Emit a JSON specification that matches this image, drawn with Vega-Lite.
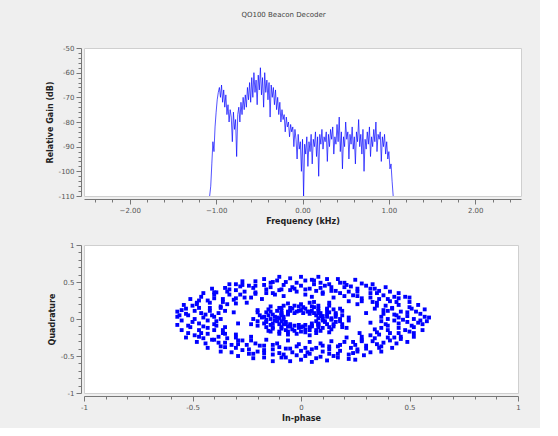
{
  "$schema": "https://vega.github.io/schema/vega-lite/v6.json",
  "background": "#efefef",
  "padding": {"left": 45, "top": 10, "right": 18, "bottom": 5},
  "title": {"text": "QO100 Beacon Decoder", "fontSize": 7, "font": "DejaVu Sans", "color": "#444444", "fontWeight": "normal", "anchor": "middle", "offset": 26},
  "config": {
    "font": "DejaVu Sans",
    "view": {"fill": "white", "stroke": "#cfcfcf"},
    "axis": {"domainColor": "#777777", "tickColor": "#777777", "labelColor": "#555555", "labelFontSize": 7, "labelFont": "DejaVu Sans", "titleFont": "DejaVu Sans", "titleFontSize": 8, "titleFontWeight": "bold", "titleColor": "#222222", "grid": false, "offset": 3, "labelOverlap": false, "labelFlush": false, "labelPadding": 2, "titlePadding": 4}
  },
  "spacing": 14,
  "vconcat": [
    {
      "width": 437,
      "height": 148,
      "data": {"values": [
        {"f":-1.075,"g":-110},{"f":-1.0625,"g":-106},{"f":-1.05,"g":-97},{"f":-1.0375,"g":-88},{"f":-1.025,"g":-92},{"f":-1.0125,"g":-82},{"f":-1.0,"g":-76},{"f":-0.9875,"g":-71},{"f":-0.975,"g":-68},{"f":-0.9625,"g":-66},
        {"f":-0.95,"g":-70},{"f":-0.9375,"g":-65},{"f":-0.925,"g":-72},{"f":-0.9125,"g":-67},{"f":-0.9,"g":-74},{"f":-0.8875,"g":-69},{"f":-0.875,"g":-77},{"f":-0.8625,"g":-73},{"f":-0.85,"g":-80},{"f":-0.8375,"g":-75},
        {"f":-0.825,"g":-78},{"f":-0.8125,"g":-88},{"f":-0.8,"g":-76},{"f":-0.7875,"g":-83},{"f":-0.775,"g":-79},{"f":-0.7625,"g":-94},{"f":-0.75,"g":-77},{"f":-0.7375,"g":-74},{"f":-0.725,"g":-80},{"f":-0.7125,"g":-72},
        {"f":-0.7,"g":-77},{"f":-0.6875,"g":-70},{"f":-0.675,"g":-75},{"f":-0.6625,"g":-69},{"f":-0.65,"g":-74},{"f":-0.6375,"g":-66},{"f":-0.625,"g":-71},{"f":-0.6125,"g":-64},{"f":-0.6,"g":-72},{"f":-0.5875,"g":-62},
        {"f":-0.575,"g":-70},{"f":-0.5625,"g":-60},{"f":-0.55,"g":-68},{"f":-0.5375,"g":-63},{"f":-0.525,"g":-73},{"f":-0.5125,"g":-61},{"f":-0.5,"g":-67},{"f":-0.4875,"g":-58},{"f":-0.475,"g":-69},{"f":-0.4625,"g":-62},
        {"f":-0.45,"g":-74},{"f":-0.4375,"g":-60},{"f":-0.425,"g":-68},{"f":-0.4125,"g":-63},{"f":-0.4,"g":-71},{"f":-0.3875,"g":-64},{"f":-0.375,"g":-78},{"f":-0.3625,"g":-65},{"f":-0.35,"g":-70},{"f":-0.3375,"g":-66},
        {"f":-0.325,"g":-73},{"f":-0.3125,"g":-67},{"f":-0.3,"g":-75},{"f":-0.2875,"g":-70},{"f":-0.275,"g":-77},{"f":-0.2625,"g":-72},{"f":-0.25,"g":-80},{"f":-0.2375,"g":-75},{"f":-0.225,"g":-79},{"f":-0.2125,"g":-77},
        {"f":-0.2,"g":-84},{"f":-0.1875,"g":-78},{"f":-0.175,"g":-82},{"f":-0.1625,"g":-80},{"f":-0.15,"g":-86},{"f":-0.1375,"g":-81},{"f":-0.125,"g":-84},{"f":-0.1125,"g":-82},{"f":-0.1,"g":-90},{"f":-0.0875,"g":-83},
        {"f":-0.075,"g":-87},{"f":-0.0625,"g":-95},{"f":-0.05,"g":-85},{"f":-0.0375,"g":-91},{"f":-0.025,"g":-88},{"f":-0.0125,"g":-100},{"f":0.0,"g":-87},{"f":0.0125,"g":-110},{"f":0.025,"g":-89},{"f":0.0375,"g":-93},
        {"f":0.05,"g":-86},{"f":0.0625,"g":-98},{"f":0.075,"g":-88},{"f":0.0875,"g":-92},{"f":0.1,"g":-85},{"f":0.1125,"g":-97},{"f":0.125,"g":-87},{"f":0.1375,"g":-90},{"f":0.15,"g":-84},{"f":0.1625,"g":-94},
        {"f":0.175,"g":-86},{"f":0.1875,"g":-102},{"f":0.2,"g":-85},{"f":0.2125,"g":-89},{"f":0.225,"g":-83},{"f":0.2375,"g":-91},{"f":0.25,"g":-86},{"f":0.2625,"g":-88},{"f":0.275,"g":-84},{"f":0.2875,"g":-96},
        {"f":0.3,"g":-85},{"f":0.3125,"g":-90},{"f":0.325,"g":-83},{"f":0.3375,"g":-87},{"f":0.35,"g":-82},{"f":0.3625,"g":-93},{"f":0.375,"g":-86},{"f":0.3875,"g":-89},{"f":0.4,"g":-81},{"f":0.4125,"g":-88},
        {"f":0.425,"g":-78},{"f":0.4375,"g":-92},{"f":0.45,"g":-84},{"f":0.4625,"g":-99},{"f":0.475,"g":-86},{"f":0.4875,"g":-90},{"f":0.5,"g":-80},{"f":0.5125,"g":-87},{"f":0.525,"g":-84},{"f":0.5375,"g":-95},
        {"f":0.55,"g":-85},{"f":0.5625,"g":-89},{"f":0.575,"g":-82},{"f":0.5875,"g":-91},{"f":0.6,"g":-86},{"f":0.6125,"g":-97},{"f":0.625,"g":-84},{"f":0.6375,"g":-88},{"f":0.65,"g":-79},{"f":0.6625,"g":-90},
        {"f":0.675,"g":-85},{"f":0.6875,"g":-93},{"f":0.7,"g":-83},{"f":0.7125,"g":-100},{"f":0.725,"g":-87},{"f":0.7375,"g":-91},{"f":0.75,"g":-84},{"f":0.7625,"g":-89},{"f":0.775,"g":-82},{"f":0.7875,"g":-94},
        {"f":0.8,"g":-86},{"f":0.8125,"g":-90},{"f":0.825,"g":-83},{"f":0.8375,"g":-88},{"f":0.85,"g":-80},{"f":0.8625,"g":-92},{"f":0.875,"g":-85},{"f":0.8875,"g":-87},{"f":0.9,"g":-84},{"f":0.9125,"g":-96},
        {"f":0.925,"g":-86},{"f":0.9375,"g":-90},{"f":0.95,"g":-85},{"f":0.9625,"g":-93},{"f":0.975,"g":-88},{"f":0.9875,"g":-95},{"f":1.0,"g":-92},{"f":1.0125,"g":-99},{"f":1.025,"g":-97},{"f":1.0375,"g":-104},
        {"f":1.05,"g":-110}
      ]},
      "mark": {"type": "line", "color": "#0000ff", "strokeWidth": 0.75, "opacity": 0.9, "clip": true},
      "encoding": {
        "x": {"field": "f", "type": "quantitative", "scale": {"domain": [-2.53, 2.53], "nice": false, "zero": false},
          "axis": {"title": "Frequency (kHz)", "values": [-2.4,-2.2,-2,-1.8,-1.6,-1.4,-1.2,-1,-0.8,-0.6,-0.4,-0.2,0,0.2,0.4,0.6,0.8,1,1.2,1.4,1.6,1.8,2,2.2,2.4],
            "labelExpr": "abs(datum.value - round(datum.value)) < 0.001 ? format(datum.value, '.2f') : ''",
            "tickSize": {"condition": {"test": "abs(datum.value - round(datum.value)) < 0.001", "value": 5}, "value": 3}}},
        "y": {"field": "g", "type": "quantitative", "scale": {"domain": [-110, -50], "nice": false, "zero": false},
          "axis": {"title": "Relative Gain (dB)", "values": [-110,-108,-106,-104,-102,-100,-98,-96,-94,-92,-90,-88,-86,-84,-82,-80,-78,-76,-74,-72,-70,-68,-66,-64,-62,-60,-58,-56,-54,-52,-50],
            "labelExpr": "datum.value % 10 === 0 ? '' + datum.value : ''",
            "tickSize": {"condition": {"test": "datum.value % 10 === 0", "value": 5}, "value": 3}}}
      }
    },
    {
      "width": 434,
      "height": 148,
      "data": {"values": [
        {"i":0.40,"q":0.00},{"i":0.52,"q":0.00},{"i":0.45,"q":0.02},{"i":0.57,"q":0.03},{"i":0.37,"q":0.03},{"i":0.49,"q":0.04},{"i":0.43,"q":0.06},{"i":0.55,"q":0.07},
        {"i":0.49,"q":0.09},{"i":0.38,"q":0.07},{"i":0.46,"q":0.10},{"i":0.57,"q":0.13},{"i":0.40,"q":0.11},{"i":0.51,"q":0.14},{"i":0.38,"q":0.12},{"i":0.50,"q":0.16},
        {"i":0.42,"q":0.15},{"i":0.54,"q":0.19},{"i":0.34,"q":0.14},{"i":0.45,"q":0.19},{"i":0.39,"q":0.18},{"i":0.50,"q":0.23},{"i":0.44,"q":0.23},{"i":0.35,"q":0.18},
        {"i":0.41,"q":0.24},{"i":0.50,"q":0.29},{"i":0.35,"q":0.22},{"i":0.45,"q":0.28},{"i":0.33,"q":0.23},{"i":0.43,"q":0.30},{"i":0.36,"q":0.27},{"i":0.45,"q":0.35},
        {"i":0.28,"q":0.24},{"i":0.38,"q":0.32},{"i":0.32,"q":0.29},{"i":0.41,"q":0.37},{"i":0.35,"q":0.35},{"i":0.28,"q":0.28},{"i":0.32,"q":0.35},{"i":0.39,"q":0.43},
        {"i":0.26,"q":0.31},{"i":0.34,"q":0.41},{"i":0.24,"q":0.32},{"i":0.32,"q":0.41},{"i":0.26,"q":0.37},{"i":0.33,"q":0.47},{"i":0.20,"q":0.31},{"i":0.26,"q":0.41},
        {"i":0.22,"q":0.37},{"i":0.28,"q":0.48},{"i":0.23,"q":0.44},{"i":0.18,"q":0.35},{"i":0.20,"q":0.43},{"i":0.25,"q":0.53},{"i":0.16,"q":0.38},{"i":0.20,"q":0.49},
        {"i":0.14,"q":0.38},{"i":0.18,"q":0.49},{"i":0.14,"q":0.43},{"i":0.17,"q":0.54},{"i":0.10,"q":0.36},{"i":0.13,"q":0.47},{"i":0.09,"q":0.42},{"i":0.12,"q":0.54},
        {"i":0.09,"q":0.49},{"i":0.07,"q":0.38},{"i":0.06,"q":0.47},{"i":0.08,"q":0.57},{"i":0.04,"q":0.41},{"i":0.05,"q":0.53},{"i":0.02,"q":0.40},{"i":0.02,"q":0.52},
        {"i":0.00,"q":0.45},{"i":0.00,"q":0.57},{"i":-0.02,"q":0.37},{"i":-0.02,"q":0.49},{"i":-0.04,"q":0.43},{"i":-0.05,"q":0.55},{"i":-0.07,"q":0.50},{"i":-0.05,"q":0.39},
        {"i":-0.08,"q":0.46},{"i":-0.10,"q":0.57},{"i":-0.09,"q":0.40},{"i":-0.11,"q":0.52},{"i":-0.10,"q":0.39},{"i":-0.13,"q":0.50},{"i":-0.14,"q":0.43},{"i":-0.17,"q":0.54},
        {"i":-0.13,"q":0.35},{"i":-0.17,"q":0.46},{"i":-0.16,"q":0.40},{"i":-0.21,"q":0.51},{"i":-0.21,"q":0.45},{"i":-0.16,"q":0.35},{"i":-0.22,"q":0.42},{"i":-0.27,"q":0.51},
        {"i":-0.21,"q":0.36},{"i":-0.27,"q":0.46},{"i":-0.21,"q":0.34},{"i":-0.28,"q":0.44},{"i":-0.26,"q":0.37},{"i":-0.33,"q":0.47},{"i":-0.23,"q":0.29},{"i":-0.30,"q":0.39},
        {"i":-0.28,"q":0.33},{"i":-0.35,"q":0.42},{"i":-0.34,"q":0.37},{"i":-0.26,"q":0.29},{"i":-0.33,"q":0.33},{"i":-0.41,"q":0.41},{"i":-0.30,"q":0.28},{"i":-0.39,"q":0.36},
        {"i":-0.31,"q":0.26},{"i":-0.40,"q":0.33},{"i":-0.36,"q":0.27},{"i":-0.45,"q":0.35},{"i":-0.30,"q":0.21},{"i":-0.40,"q":0.28},{"i":-0.36,"q":0.23},{"i":-0.46,"q":0.30},
        {"i":-0.43,"q":0.25},{"i":-0.34,"q":0.20},{"i":-0.42,"q":0.22},{"i":-0.51,"q":0.27},{"i":-0.37,"q":0.17},{"i":-0.48,"q":0.22},{"i":-0.37,"q":0.15},{"i":-0.48,"q":0.20},
        {"i":-0.42,"q":0.15},{"i":-0.54,"q":0.19},{"i":-0.35,"q":0.11},{"i":-0.47,"q":0.15},{"i":-0.42,"q":0.11},{"i":-0.53,"q":0.14},{"i":-0.49,"q":0.11},{"i":-0.38,"q":0.08},
        {"i":-0.46,"q":0.08},{"i":-0.57,"q":0.10},{"i":-0.41,"q":0.05},{"i":-0.53,"q":0.07},{"i":-0.40,"q":0.03},{"i":-0.52,"q":0.05},{"i":-0.45,"q":0.02},{"i":-0.57,"q":0.03},
        {"i":-0.37,"q":0.00},{"i":-0.49,"q":0.00},{"i":-0.43,"q":-0.02},{"i":-0.55,"q":-0.02},{"i":-0.50,"q":-0.04},{"i":-0.39,"q":-0.03},{"i":-0.47,"q":-0.06},{"i":-0.57,"q":-0.08},
        {"i":-0.40,"q":-0.07},{"i":-0.52,"q":-0.09},{"i":-0.39,"q":-0.09},{"i":-0.51,"q":-0.11},{"i":-0.43,"q":-0.12},{"i":-0.55,"q":-0.15},{"i":-0.35,"q":-0.11},{"i":-0.47,"q":-0.15},
        {"i":-0.40,"q":-0.15},{"i":-0.52,"q":-0.19},{"i":-0.46,"q":-0.19},{"i":-0.36,"q":-0.15},{"i":-0.43,"q":-0.20},{"i":-0.53,"q":-0.25},{"i":-0.36,"q":-0.19},{"i":-0.47,"q":-0.24},
        {"i":-0.35,"q":-0.20},{"i":-0.45,"q":-0.26},{"i":-0.38,"q":-0.24},{"i":-0.48,"q":-0.31},{"i":-0.30,"q":-0.21},{"i":-0.40,"q":-0.28},{"i":-0.34,"q":-0.26},{"i":-0.44,"q":-0.33},
        {"i":-0.38,"q":-0.32},{"i":-0.30,"q":-0.25},{"i":-0.35,"q":-0.32},{"i":-0.43,"q":-0.39},{"i":-0.29,"q":-0.29},{"i":-0.37,"q":-0.37},{"i":-0.27,"q":-0.29},{"i":-0.35,"q":-0.38},
        {"i":-0.29,"q":-0.34},{"i":-0.37,"q":-0.44},{"i":-0.23,"q":-0.29},{"i":-0.30,"q":-0.39},{"i":-0.25,"q":-0.35},{"i":-0.32,"q":-0.45},{"i":-0.27,"q":-0.42},{"i":-0.21,"q":-0.33},
        {"i":-0.24,"q":-0.41},{"i":-0.29,"q":-0.50},{"i":-0.19,"q":-0.36},{"i":-0.24,"q":-0.47},{"i":-0.17,"q":-0.36},{"i":-0.22,"q":-0.47},{"i":-0.17,"q":-0.42},{"i":-0.22,"q":-0.53},
        {"i":-0.13,"q":-0.35},{"i":-0.17,"q":-0.46},{"i":-0.13,"q":-0.41},{"i":-0.17,"q":-0.52},{"i":-0.13,"q":-0.48},{"i":-0.10,"q":-0.38},{"i":-0.10,"q":-0.46},{"i":-0.13,"q":-0.57},
        {"i":-0.07,"q":-0.40},{"i":-0.09,"q":-0.52},{"i":-0.05,"q":-0.40},{"i":-0.07,"q":-0.52},{"i":-0.04,"q":-0.45},{"i":-0.05,"q":-0.57},{"i":-0.02,"q":-0.37},{"i":-0.02,"q":-0.49},
        {"i":0.00,"q":-0.43},{"i":0.00,"q":-0.55},{"i":0.02,"q":-0.50},{"i":0.02,"q":-0.39},{"i":0.04,"q":-0.47},{"i":0.05,"q":-0.58},{"i":0.05,"q":-0.41},{"i":0.07,"q":-0.53},
        {"i":0.07,"q":-0.39},{"i":0.09,"q":-0.51},{"i":0.10,"q":-0.44},{"i":0.12,"q":-0.56},{"i":0.10,"q":-0.36},{"i":0.13,"q":-0.47},{"i":0.13,"q":-0.41},{"i":0.17,"q":-0.52},
        {"i":0.17,"q":-0.47},{"i":0.13,"q":-0.37},{"i":0.18,"q":-0.43},{"i":0.22,"q":-0.54},{"i":0.17,"q":-0.37},{"i":0.22,"q":-0.48},{"i":0.18,"q":-0.35},{"i":0.24,"q":-0.46},
        {"i":0.23,"q":-0.39},{"i":0.29,"q":-0.49},{"i":0.20,"q":-0.31},{"i":0.26,"q":-0.41},{"i":0.25,"q":-0.35},{"i":0.32,"q":-0.45},{"i":0.30,"q":-0.40},{"i":0.24,"q":-0.31},
        {"i":0.30,"q":-0.36},{"i":0.37,"q":-0.44},{"i":0.28,"q":-0.30},{"i":0.36,"q":-0.39},{"i":0.28,"q":-0.28},{"i":0.37,"q":-0.37},{"i":0.33,"q":-0.30},{"i":0.42,"q":-0.39},
        {"i":0.28,"q":-0.24},{"i":0.38,"q":-0.32},{"i":0.34,"q":-0.26},{"i":0.44,"q":-0.33},{"i":0.41,"q":-0.29},{"i":0.32,"q":-0.22},{"i":0.40,"q":-0.25},{"i":0.49,"q":-0.31},
        {"i":0.36,"q":-0.21},{"i":0.46,"q":-0.27},{"i":0.35,"q":-0.18},{"i":0.46,"q":-0.24},{"i":0.41,"q":-0.19},{"i":0.52,"q":-0.24},{"i":0.34,"q":-0.14},{"i":0.45,"q":-0.19},
        {"i":0.40,"q":-0.15},{"i":0.52,"q":-0.19},{"i":0.48,"q":-0.15},{"i":0.37,"q":-0.12},{"i":0.45,"q":-0.12},{"i":0.56,"q":-0.15},{"i":0.40,"q":-0.09},{"i":0.52,"q":-0.11},
        {"i":0.39,"q":-0.07},{"i":0.51,"q":-0.09},{"i":0.45,"q":-0.06},{"i":0.56,"q":-0.07},{"i":0.37,"q":-0.03},{"i":0.49,"q":-0.04},{"i":0.43,"q":-0.02},{"i":0.55,"q":-0.02},
        {"i":0.59,"q":0.02},{"i":-0.56,"q":0.05},
        {"i":0.48,"q":0.30},{"i":0.53,"q":0.10},{"i":0.44,"q":0.05},{"i":0.40,"q":0.27},{"i":0.30,"q":0.45},{"i":0.21,"q":0.46},{"i":0.06,"q":0.52},{"i":-0.03,"q":0.41},
        {"i":-0.14,"q":0.49},{"i":-0.24,"q":0.45},{"i":-0.33,"q":0.40},{"i":-0.40,"q":0.36},{"i":-0.47,"q":0.25},{"i":-0.50,"q":0.18},{"i":-0.44,"q":0.06},{"i":-0.55,"q":0.12},
        {"i":-0.45,"q":-0.10},{"i":-0.49,"q":-0.22},{"i":-0.41,"q":-0.28},{"i":-0.32,"q":-0.35},{"i":-0.20,"q":-0.44},{"i":-0.08,"q":-0.48},{"i":0.03,"q":-0.45},{"i":0.15,"q":-0.50},
        {"i":0.26,"q":-0.44},{"i":0.35,"q":-0.34},{"i":0.43,"q":-0.25},{"i":0.50,"q":-0.17},{"i":0.54,"q":-0.05},{"i":0.47,"q":-0.01},{"i":0.58,"q":-0.03},{"i":0.42,"q":0.14},
        {"i":0.36,"q":0.38},{"i":0.11,"q":0.45},{"i":-0.30,"q":0.47},{"i":0.25,"q":-0.55},
        {"i":0.05,"q":0.30},{"i":-0.08,"q":0.31},{"i":0.15,"q":0.29},{"i":-0.18,"q":0.27},{"i":0.22,"q":0.24},{"i":-0.25,"q":0.22},{"i":0.02,"q":0.33},{"i":-0.12,"q":0.33},
        {"i":0.10,"q":0.34},{"i":0.26,"q":0.20},{"i":0.04,"q":-0.31},{"i":-0.06,"q":-0.29},{"i":0.14,"q":-0.30},{"i":-0.16,"q":-0.28},{"i":0.21,"q":-0.25},{"i":-0.23,"q":-0.24},
        {"i":-0.01,"q":-0.34},{"i":0.09,"q":-0.33},{"i":-0.11,"q":-0.33},{"i":0.27,"q":-0.19},{"i":0.30,"q":0.08},{"i":-0.29,"q":-0.06},{"i":0.32,"q":-0.05},{"i":-0.31,"q":0.09},
        {"i":0.18,"q":0.14},{"i":-0.20,"q":0.12},{"i":0.06,"q":0.23},{"i":-0.10,"q":-0.20},{"i":0.21,"q":-0.12},{"i":-0.23,"q":-0.07},{"i":0.13,"q":0.22},{"i":-0.15,"q":-0.16},
        {"i":0.10,"q":0.00},{"i":0.18,"q":0.00},{"i":0.14,"q":0.01},{"i":0.22,"q":0.02},{"i":0.08,"q":0.01},{"i":0.16,"q":0.03},{"i":0.12,"q":0.03},{"i":0.19,"q":0.05},
        {"i":0.16,"q":0.06},{"i":0.10,"q":0.04},{"i":0.09,"q":0.04},{"i":0.16,"q":0.08},{"i":0.12,"q":0.07},{"i":0.19,"q":0.11},{"i":0.07,"q":0.05},{"i":0.13,"q":0.09},
        {"i":0.09,"q":0.08},{"i":0.15,"q":0.13},{"i":0.12,"q":0.12},{"i":0.08,"q":0.08},{"i":0.06,"q":0.08},{"i":0.12,"q":0.14},{"i":0.08,"q":0.11},{"i":0.13,"q":0.18},
        {"i":0.04,"q":0.07},{"i":0.08,"q":0.14},{"i":0.05,"q":0.11},{"i":0.08,"q":0.18},{"i":0.06,"q":0.16},{"i":0.04,"q":0.10},{"i":0.03,"q":0.10},{"i":0.05,"q":0.17},
        {"i":0.02,"q":0.14},{"i":0.04,"q":0.22},{"i":0.01,"q":0.08},{"i":0.01,"q":0.16},
        {"i":0.00,"q":0.12},{"i":0.00,"q":0.20},{"i":-0.01,"q":0.17},{"i":-0.01,"q":0.11},{"i":-0.02,"q":0.10},{"i":-0.03,"q":0.18},{"i":-0.04,"q":0.14},{"i":-0.06,"q":0.21},
        {"i":-0.03,"q":0.08},{"i":-0.05,"q":0.15},{"i":-0.05,"q":0.11},{"i":-0.08,"q":0.18},{"i":-0.09,"q":0.15},{"i":-0.06,"q":0.10},{"i":-0.06,"q":0.08},{"i":-0.10,"q":0.15},
        {"i":-0.09,"q":0.11},{"i":-0.14,"q":0.17},{"i":-0.06,"q":0.06},{"i":-0.11,"q":0.11},{"i":-0.09,"q":0.08},{"i":-0.15,"q":0.13},{"i":-0.14,"q":0.10},{"i":-0.09,"q":0.06},
        {"i":-0.09,"q":0.05},{"i":-0.16,"q":0.09},{"i":-0.13,"q":0.06},{"i":-0.20,"q":0.09},{"i":-0.08,"q":0.03},{"i":-0.15,"q":0.05},{"i":-0.12,"q":0.03},{"i":-0.19,"q":0.05},
        {"i":-0.17,"q":0.03},{"i":-0.11,"q":0.02},{"i":-0.10,"q":0.01},{"i":-0.18,"q":0.02},
        {"i":-0.14,"q":0.00},{"i":-0.22,"q":0.00},{"i":-0.08,"q":-0.01},{"i":-0.16,"q":-0.01},{"i":-0.12,"q":-0.02},{"i":-0.20,"q":-0.03},{"i":-0.16,"q":-0.04},{"i":-0.11,"q":-0.03},
        {"i":-0.09,"q":-0.03},{"i":-0.17,"q":-0.06},{"i":-0.13,"q":-0.06},{"i":-0.20,"q":-0.09},{"i":-0.07,"q":-0.04},{"i":-0.14,"q":-0.08},{"i":-0.10,"q":-0.07},{"i":-0.16,"q":-0.11},
        {"i":-0.13,"q":-0.11},{"i":-0.08,"q":-0.07},{"i":-0.07,"q":-0.07},{"i":-0.13,"q":-0.13},{"i":-0.09,"q":-0.11},{"i":-0.14,"q":-0.17},{"i":-0.05,"q":-0.07},{"i":-0.09,"q":-0.13},
        {"i":-0.06,"q":-0.10},{"i":-0.10,"q":-0.17},{"i":-0.07,"q":-0.15},{"i":-0.05,"q":-0.10},{"i":-0.03,"q":-0.09},{"i":-0.06,"q":-0.17},{"i":-0.04,"q":-0.14},{"i":-0.06,"q":-0.21},
        {"i":-0.01,"q":-0.08},{"i":-0.03,"q":-0.16},{"i":-0.01,"q":-0.12},{"i":-0.02,"q":-0.20},
        {"i":0.00,"q":-0.17},{"i":0.00,"q":-0.11},{"i":0.01,"q":-0.10},{"i":0.02,"q":-0.18},{"i":0.02,"q":-0.14},{"i":0.04,"q":-0.22},{"i":0.02,"q":-0.08},{"i":0.04,"q":-0.15},
        {"i":0.04,"q":-0.11},{"i":0.07,"q":-0.19},{"i":0.07,"q":-0.15},{"i":0.05,"q":-0.10},{"i":0.05,"q":-0.09},{"i":0.09,"q":-0.16},{"i":0.08,"q":-0.11},{"i":0.13,"q":-0.18},
        {"i":0.05,"q":-0.06},{"i":0.10,"q":-0.12},{"i":0.08,"q":-0.08},{"i":0.14,"q":-0.14},{"i":0.13,"q":-0.11},{"i":0.08,"q":-0.07},{"i":0.08,"q":-0.06},{"i":0.15,"q":-0.10},
        {"i":0.12,"q":-0.07},{"i":0.19,"q":-0.11},{"i":0.07,"q":-0.03},{"i":0.15,"q":-0.07},{"i":0.11,"q":-0.04},{"i":0.19,"q":-0.07},{"i":0.16,"q":-0.04},{"i":0.11,"q":-0.03},
        {"i":0.10,"q":-0.02},{"i":0.18,"q":-0.03},{"i":0.14,"q":-0.01},{"i":0.22,"q":-0.02}
      ]},
      "mark": {"type": "square", "color": "#0000ff", "size": 15, "opacity": 1, "clip": true},
      "encoding": {
        "x": {"field": "i", "type": "quantitative", "scale": {"domain": [-1, 1], "nice": false, "zero": false},
          "axis": {"title": "In-phase", "values": [-1,-0.9,-0.8,-0.7,-0.6,-0.5,-0.4,-0.3,-0.2,-0.1,0,0.1,0.2,0.3,0.4,0.5,0.6,0.7,0.8,0.9,1],
            "labelExpr": "abs(datum.value * 2 - round(datum.value * 2)) < 0.001 ? '' + datum.value : ''",
            "tickSize": {"condition": {"test": "abs(datum.value * 2 - round(datum.value * 2)) < 0.001", "value": 5}, "value": 3}}},
        "y": {"field": "q", "type": "quantitative", "scale": {"domain": [-1, 1], "nice": false, "zero": false},
          "axis": {"title": "Quadrature", "values": [-1,-0.9,-0.8,-0.7,-0.6,-0.5,-0.4,-0.3,-0.2,-0.1,0,0.1,0.2,0.3,0.4,0.5,0.6,0.7,0.8,0.9,1],
            "labelExpr": "abs(datum.value * 2 - round(datum.value * 2)) < 0.001 ? '' + datum.value : ''",
            "tickSize": {"condition": {"test": "abs(datum.value * 2 - round(datum.value * 2)) < 0.001", "value": 5}, "value": 3}}}
      }
    }
  ]
}
